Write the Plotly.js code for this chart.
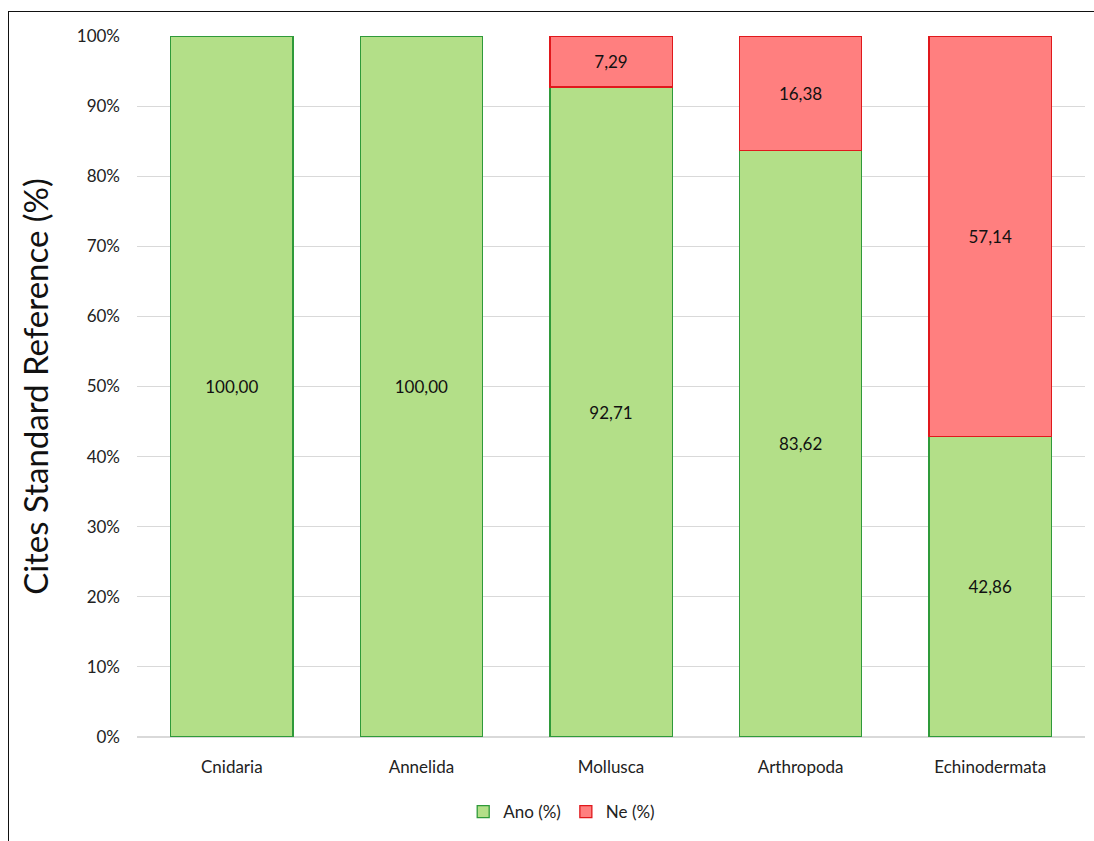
<!DOCTYPE html>
<html>
<head>
<meta charset="utf-8">
<script src="https://cdn.plot.ly/plotly-3.0.1.min.js"></script>
<style>
  html, body { margin: 0; padding: 0; background: #fff; }
  #wrap { position: relative; width: 1094px; height: 841px; }
  #frame { position: absolute; left: 8px; top: 11px; width: 1100px; height: 900px;
           border-left: 1px solid #111; border-top: 1px solid #111; pointer-events: none; }
  #chart { position: absolute; left: 0; top: 0; width: 1094px; height: 841px; }
</style>
</head>
<body>
<div id="wrap">
  <div id="chart"></div>
  <div id="frame"></div>
</div>
<script>
const categories = ["Cnidaria", "Annelida", "Mollusca", "Arthropoda", "Echinodermata"];
const anoValues = [100.00, 100.00, 92.71, 83.62, 42.86];
const neValues = [0, 0, 7.29, 16.38, 57.14];
const yTickValues = [0, 10, 20, 30, 40, 50, 60, 70, 80, 90, 100];

const fontFam = "Lato, 'Open Sans', sans-serif";

const fmt = v => v > 0 ? v.toFixed(2).replace('.', ',') : '';
const nz = v => v > 0 ? v : null;

const traces = [
  {
    type: 'bar', name: 'Ano (%)', x: categories, y: anoValues.map(nz),
    text: anoValues.map(fmt), textposition: 'inside', insidetextanchor: 'middle',
    textfont: {family: fontFam, size: 17, color: '#111'},
    marker: {color: '#b3df88', line: {color: '#2f9a3a', width: 1.3}},
    hoverinfo: 'x+y'
  },
  {
    type: 'bar', name: 'Ne (%)', x: categories, y: neValues.map(nz),
    text: neValues.map(fmt), textposition: 'inside', insidetextanchor: 'middle',
    textfont: {family: fontFam, size: 17, color: '#111'},
    marker: {color: '#ff7f7f', line: {color: '#e0181c', width: 1.3}},
    hoverinfo: 'x+y'
  }
];

const layout = {
  width: 1094, height: 841,
  margin: {l: 137, r: 9, t: 36, b: 104},
  barmode: 'stack',
  bargap: 0.355,
  paper_bgcolor: '#fff', plot_bgcolor: '#fff',
  font: {family: fontFam, size: 17, color: '#222'},
  separators: ',.',
  xaxis: {
    tickfont: {family: fontFam, size: 17, color: '#222'},
    showgrid: false, zeroline: false, showline: false,
    ticks: '', ticklabelstandoff: 18
  },
  yaxis: {
    range: [0, 100], tickvals: yTickValues, ticktext: yTickValues.map(v => v + '%'),
    showgrid: true, gridcolor: '#d9d9d9', gridwidth: 1,
    zeroline: true, zerolinecolor: '#d9d9d9', zerolinewidth: 1.5,
    showline: false, ticks: '', ticklabelstandoff: 16,
    tickfont: {family: fontFam, size: 17, color: '#222'},
    title: {text: 'Cites Standard Reference (%)', font: {family: fontFam, size: 33, color: '#111'}, standoff: 18}
  },
  legend: {
    orientation: 'h', x: 0.448, xanchor: 'center', y: -0.107, yanchor: 'middle',
    font: {family: fontFam, size: 17, color: '#222'},
    itemwidth: 30, traceorder: 'normal'
  }
};

Plotly.newPlot('chart', traces, layout, {displayModeBar: false, staticPlot: true});
</script>
</body>
</html>
